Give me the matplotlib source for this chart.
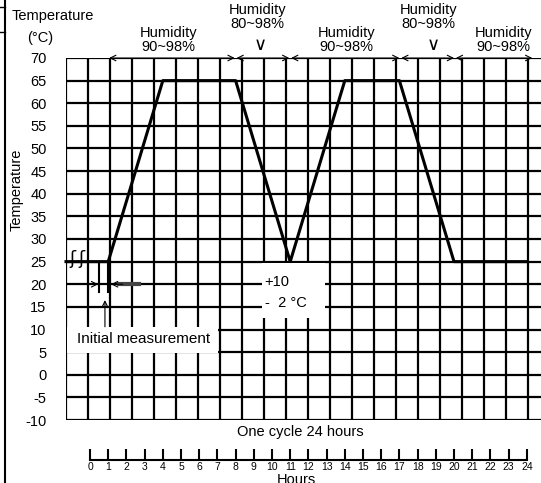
import numpy as np
import matplotlib.pyplot as plt
from matplotlib.lines import Line2D
from matplotlib.patches import Rectangle

plt.rcParams['font.family'] = ['Liberation Sans', 'DejaVu Sans']
plt.rcParams['axes.unicode_minus'] = False

# Профиль температуры (часы, °C)
hours = [-1.32, 1, 4, 8, 11, 14, 17, 20, 24]
temp = [25, 25, 65, 65, 25, 65, 65, 25, 25]

y_ticks = list(range(-10, 75, 5))
hour_ticks = list(range(0, 25))

# Фазы влажности
phase_start = [1.05, 8.05, 11.05, 17.1, 20.1]
phase_end = [7.95, 10.95, 17.0, 20.0, 24.3]
phase_label = ['Humidity\n90~98%', 'Humidity\n80~98%', 'Humidity\n90~98%',
               'Humidity\n80~98%', 'Humidity\n90~98%']
label_x = [4.3, 9.2, 14.1, 18.6, 22.7]
label_y = [74.0, 79.1, 74.0, 79.1, 74.0]

W, H = 541, 483
fig = plt.figure(figsize=(W / 100, H / 100), dpi=100)

x0, x1 = -1.32, 24.78
ax = fig.add_axes([66 / W, 1 - 420 / H, 475 / W, 362 / H])
ax.set_xlim(x0, x1)
ax.set_ylim(-10, 70)

# сетка
col = 22 / 18.2
for gx in x0 + np.arange(22) * col:
    ax.axvline(gx, color='black', lw=1.6, zorder=1)
for gy in y_ticks:
    ax.axhline(gy, color='black', lw=1.6, zorder=1)
for s in ax.spines.values():
    s.set_visible(False)
ax.set_xticks([])
ax.set_yticks(y_ticks)
ax.tick_params(axis='y', length=0, pad=14, labelsize=10.5)
ax.set_facecolor('none')

# кривая температуры
ax.plot(hours, temp, color='black', lw=2.2, zorder=3, clip_on=False)

# стрелки влажности
for a, b in zip(phase_start, phase_end):
    ax.annotate('', xy=(b, 70), xytext=(a, 70),
                arrowprops=dict(arrowstyle='<->', lw=0.8, color='black',
                                shrinkA=0, shrinkB=0), annotation_clip=False)
for lx, ly, t in zip(label_x, label_y, phase_label):
    ax.text(lx, ly, t, ha='center', va='center', fontsize=10.5,
            linespacing=0.95, clip_on=False)
for lx in [9.35, 18.85]:
    ax.text(lx, 72.9, '\u2228', ha='center', va='center', fontsize=13,
            family=['DejaVu Sans'], clip_on=False)

# отметки начального измерения
for bx in [-0.95, -0.5]:
    ax.text(bx, 25.6, '\u0283', ha='center', va='center', fontsize=13,
            family=['DejaVu Sans'], zorder=4)
ax.plot([0.5, 0.5], [25, 18.3], color='black', lw=1.5, zorder=3)
ax.plot([1.0, 1.0], [25, 18.3], color='black', lw=1.5, zorder=3)
ax.annotate('', xy=(0.45, 20), xytext=(-1.0, 20),
            arrowprops=dict(arrowstyle='->', lw=0.8, color='black', shrinkA=0, shrinkB=0))
ax.plot([1.6, 2.7], [20, 20], color='#444444', lw=3, zorder=3)
ax.annotate('', xy=(1.15, 20), xytext=(1.8, 20),
            arrowprops=dict(arrowstyle='->', lw=0.8, color='black', shrinkA=0, shrinkB=0))
ax.annotate('', xy=(0.82, 16.5), xytext=(0.82, 10.6),
            arrowprops=dict(arrowstyle='->', lw=0.8, color='black', shrinkA=0, shrinkB=0))

ax.add_patch(Rectangle((x0 + 0.05, 4.9), 7.03 - x0 - 0.05, 5.7, fc='white', ec='none', zorder=2))
ax.text(2.95, 7.8, 'Initial measurement', ha='center', va='center', fontsize=11, zorder=5)

ax.add_patch(Rectangle((9.45, 12.5), 3.45, 12.2, fc='white', ec='none', zorder=2))
ax.text(9.6, 20.5, '+10', ha='left', va='center', fontsize=10.5, zorder=5)
ax.text(9.6, 15.9, '-  2 °C', ha='left', va='center', fontsize=10.5, zorder=5)

# шкала часов
ax2 = fig.add_axes([66 / W, 1 - 460 / H, 475 / W, 0.01])
ax2.set_xlim(x0, x1)
ax2.set_facecolor('none')
for k in ['top', 'left', 'right']:
    ax2.spines[k].set_visible(False)
ax2.spines['bottom'].set_bounds(0, 24)
ax2.spines['bottom'].set_linewidth(1.5)
ax2.set_yticks([])
ax2.set_xticks(hour_ticks)
ax2.set_xticklabels([str(h) for h in hour_ticks])
ax2.tick_params(axis='x', direction='in', length=8, width=1.5, pad=1.5, labelsize=7.5)

fig.text(300 / W, 1 - 432 / H, 'One cycle 24 hours', ha='center', va='center', fontsize=10.5)
fig.text(296 / W, 1 - 473 / H, 'Hours', ha='center', va='top', fontsize=10.5)

fig.text(12 / W, 1 - 16 / H, 'Temperature', ha='left', va='center', fontsize=10.5)
fig.text(27 / W, 1 - 38 / H, '(°C)', ha='left', va='center', fontsize=10.5)
fig.text(17 / W, 1 - 190 / H, 'Temperature', ha='center', va='center',
         rotation=90, fontsize=10.5)

# рамка слева
fig.add_artist(Line2D([5 / W, 5 / W], [0, 1], color='black', lw=1.5))
fig.add_artist(Line2D([0, 5 / W], [1 - 7 / H, 1 - 7 / H], color='black', lw=1))
fig.add_artist(Line2D([0, 5 / W], [1 - 32 / H, 1 - 32 / H], color='black', lw=1))

fig.savefig('out.png', dpi=100)
